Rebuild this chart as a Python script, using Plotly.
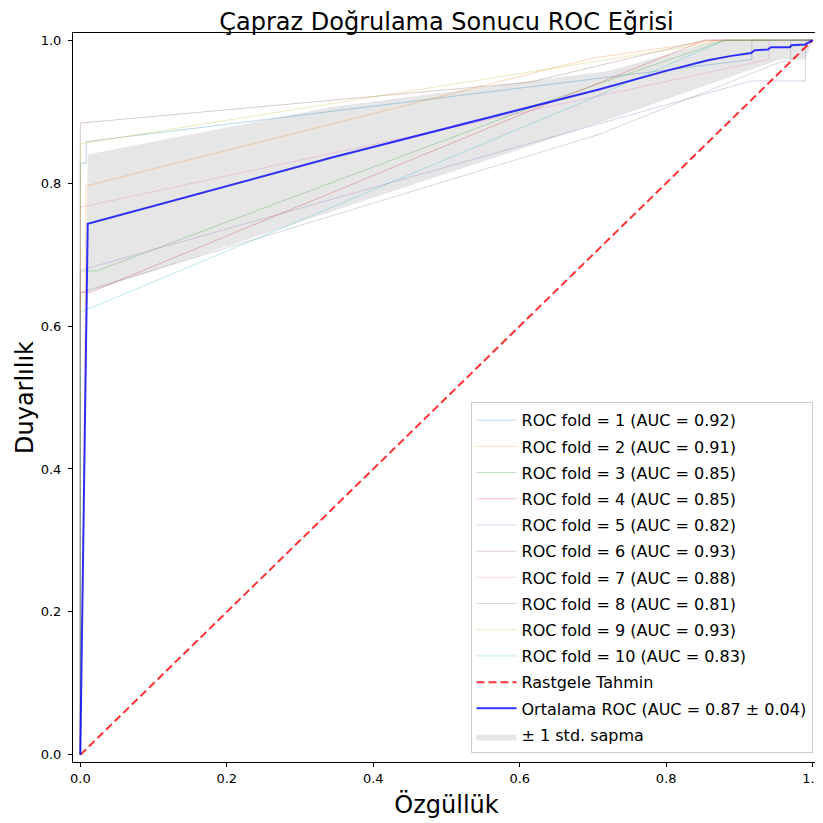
import plotly.graph_objects as go

# ---- data ----
fold_names = [f"ROC fold = {i}" for i in range(1, 11)]
fold_auc = [0.92, 0.91, 0.85, 0.85, 0.82, 0.93, 0.88, 0.81, 0.93, 0.83]

fold1_fpr = [0, 0, 0.008, 0.008, 0.917, 0.917, 1.0]
fold1_tpr = [0, 0.828, 0.828, 0.858, 0.973, 1.0, 1.0]
fold2_fpr = [0, 0.004, 0.008, 0.7, 0.87, 1.0]
fold2_tpr = [0, 0.327, 0.796, 0.975, 1.0, 1.0]
fold3_fpr = [0, 0, 0.022, 0.64, 0.882, 1.0]
fold3_tpr = [0, 0.677, 0.677, 0.915, 1.0, 1.0]
fold4_fpr = [0, 0, 0.013, 0.64, 0.853, 1.0]
fold4_tpr = [0, 0.647, 0.647, 0.912, 1.0, 1.0]
fold5_fpr = [0, 0, 0.916, 0.99, 0.99, 1.0]
fold5_tpr = [0, 0.678, 0.943, 0.943, 1.0, 1.0]
fold6_fpr = [0, 0, 0.613, 0.853, 1.0]
fold6_tpr = [0, 0.884, 0.941, 1.0, 1.0]
fold7_fpr = [0, 0, 0.94, 0.94, 1.0]
fold7_tpr = [0, 0.766, 0.973, 1.0, 1.0]
fold8_fpr = [0, 0, 0.708, 0.957, 0.97, 0.97, 1.0]
fold8_tpr = [0, 0.647, 0.868, 0.97, 0.97, 1.0, 1.0]
fold9_fpr = [0, 0, 0.885, 1.0]
fold9_tpr = [0, 0.855, 1.0, 1.0]
fold10_fpr = [0, 0, 0.69, 0.88, 1.0]
fold10_tpr = [0, 0.619, 0.915, 1.0, 1.0]

mean_fpr = [0, 0.0101, 0.341, 0.522, 0.65, 0.708, 0.80, 0.857, 0.889, 0.916,
            0.921, 0.939, 0.943, 0.969, 0.971, 0.99, 1.0]
mean_tpr = [0, 0.743, 0.835, 0.882, 0.915, 0.931, 0.957, 0.972, 0.978, 0.982,
            0.986, 0.987, 0.990, 0.990, 0.993, 0.994, 1.0]
mean_auc = 0.87
std_auc = 0.04

band_upper_fpr = [0, 0.0101, 0.341, 0.721, 0.87, 1.0]
band_upper_tpr = [0, 0.84, 0.906, 0.957, 1.0, 1.0]
band_lower_fpr = [0, 0.0101, 0.708, 0.955, 0.99, 1.0]
band_lower_tpr = [0, 0.647, 0.884, 0.973, 0.973, 1.0]

chance_x = [0, 1]
chance_y = [0, 1]

tick_vals = [0.0, 0.2, 0.4, 0.6, 0.8, 1.0]
tick_text = ["0.0", "0.2", "0.4", "0.6", "0.8", "1.0"]

fold_colors = ["31,119,180", "255,127,14", "44,160,44", "214,39,40", "148,103,189",
               "140,86,75", "227,119,194", "127,127,127", "188,189,34", "23,190,207"]

folds = [(fold1_fpr, fold1_tpr), (fold2_fpr, fold2_tpr), (fold3_fpr, fold3_tpr),
         (fold4_fpr, fold4_tpr), (fold5_fpr, fold5_tpr), (fold6_fpr, fold6_tpr),
         (fold7_fpr, fold7_tpr), (fold8_fpr, fold8_tpr), (fold9_fpr, fold9_tpr),
         (fold10_fpr, fold10_tpr)]

fig = go.Figure()

# std band (drawn first, listed last in legend)
fig.add_trace(go.Scatter(
    x=band_upper_fpr + band_lower_fpr[::-1],
    y=band_upper_tpr + band_lower_tpr[::-1],
    fill="toself", fillcolor="rgba(128,128,128,0.2)",
    line=dict(width=0, color="rgba(0,0,0,0)"),
    name="± 1 std. sapma", legendrank=13, legendgroup="g13", hoverinfo="skip"))

for i, (fx, fy) in enumerate(folds):
    fig.add_trace(go.Scatter(
        x=fx, y=fy, mode="lines",
        line=dict(color=f"rgba({fold_colors[i]},0.3)", width=1),
        name=f"{fold_names[i]} (AUC = {fold_auc[i]:.2f})",
        legendrank=i + 1, legendgroup=f"g{i + 1}"))

fig.add_trace(go.Scatter(
    x=chance_x, y=chance_y, mode="lines",
    line=dict(color="rgba(255,0,0,0.8)", width=2, dash="8px,4px"),
    name="Rastgele Tahmin", legendrank=11, legendgroup="g11"))

fig.add_trace(go.Scatter(
    x=mean_fpr, y=mean_tpr, mode="lines",
    line=dict(color="rgba(0,0,255,0.8)", width=2),
    name=f"Ortalama ROC (AUC = {mean_auc:.2f} ± {std_auc:.2f})",
    legendrank=12, legendgroup="g12"))

axis_common = dict(
    range=[-0.01, 1.01], showgrid=False, zeroline=False, automargin=False,
    showline=True, linecolor="black", linewidth=1, mirror=True,
    ticks="outside", ticklen=4, tickcolor="black",
    tickvals=tick_vals, ticktext=tick_text, ticklabeloverflow="allow",
    tickfont=dict(family="DejaVu Sans", size=13, color="black"),
)

# the page body has an 8px margin, so the figure is 815x815 and offset by 8px
fig.update_layout(
    width=815, height=815,
    margin=dict(l=65, r=3, t=25, b=61, autoexpand=False),
    paper_bgcolor="white", plot_bgcolor="white",
    font=dict(family="DejaVu Sans", color="black"),
    title=dict(text="Çapraz Doğrulama Sonucu ROC Eğrisi",
               font=dict(family="DejaVu Sans", size=24, color="black"),
               xref="paper", x=0.5, xanchor="center",
               yref="container", y=0.9828, yanchor="middle"),
    xaxis=dict(axis_common, title=dict(text="Özgüllük",
               font=dict(family="DejaVu Sans", size=24), standoff=11)),
    yaxis=dict(axis_common, ticklabelstandoff=4,
               title=dict(text="Duyarlılık",
               font=dict(family="DejaVu Sans", size=24), standoff=0)),
    legend=dict(x=0.99, y=0.012, xanchor="right", yanchor="bottom",
                bgcolor="rgba(255,255,255,0.8)", bordercolor="#cccccc", borderwidth=1,
                font=dict(family="DejaVu Sans", size=16, color="black"),
                traceorder="grouped", tracegroupgap=2.4, itemwidth=40),
    showlegend=True,
)

fig.write_html("out.html")
